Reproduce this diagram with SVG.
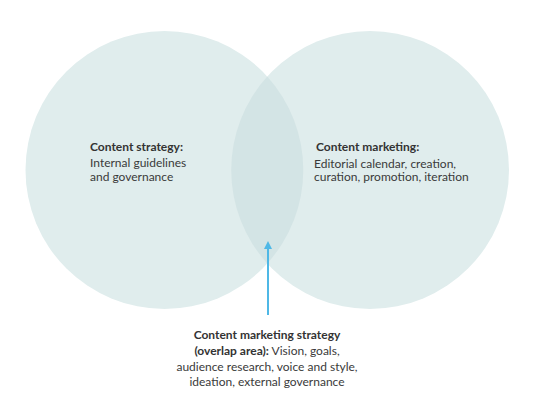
<svg xmlns="http://www.w3.org/2000/svg" width="540" height="405" viewBox="0 0 540 405">
<defs>
<style>
.circle{fill:#e0eded}
.lens{fill:#d3e4e5}
text{font-family:Lato,"Open Sans","Liberation Sans",sans-serif;font-size:12px;fill:#3a3a3a}
.b{font-weight:bold;fill:#333}
.conn{stroke:#4fb8e6;stroke-width:2;fill:none}
</style>
<marker id="ah" viewBox="0 0 10 10" refX="5" refY="5" markerWidth="4" markerHeight="4" orient="auto-start-reverse">
<path d="M0,0 L10,5 L0,10 z" fill="#4fb8e6"/>
</marker>
</defs>
<g id="content-strategy">
<circle class="circle" cx="164.5" cy="170" r="139"/>
<text x="90" y="151" class="b">Content strategy:</text>
<text x="90" y="167">Internal guidelines</text>
<text x="90" y="180.5">and governance</text>
</g>
<g id="content-marketing">
<circle class="circle" cx="370" cy="170" r="139"/>
<text x="316" y="151" class="b">Content marketing:</text>
<text x="314" y="167.5">Editorial calendar, creation,</text>
<text x="314" y="181">curation, promotion, iteration</text>
</g>
<g id="overlap">
<path class="lens" d="M267.25,76.6 A139,139 0 0 0 267.25,263.4 A139,139 0 0 0 267.25,76.6 Z"/>
</g>
<g id="connectors">
<line class="conn" x1="268" y1="315" x2="268" y2="245" marker-end="url(#ah)"/>
</g>
<g id="overlap-label">
<text x="267" y="339" text-anchor="middle" class="b">Content marketing strategy</text>
<text x="267" y="355" text-anchor="middle"><tspan class="b">(overlap area):</tspan> Vision, goals,</text>
<text x="267" y="370.5" text-anchor="middle">audience research, voice and style,</text>
<text x="267" y="386" text-anchor="middle">ideation, external governance</text>
</g>
</svg>
